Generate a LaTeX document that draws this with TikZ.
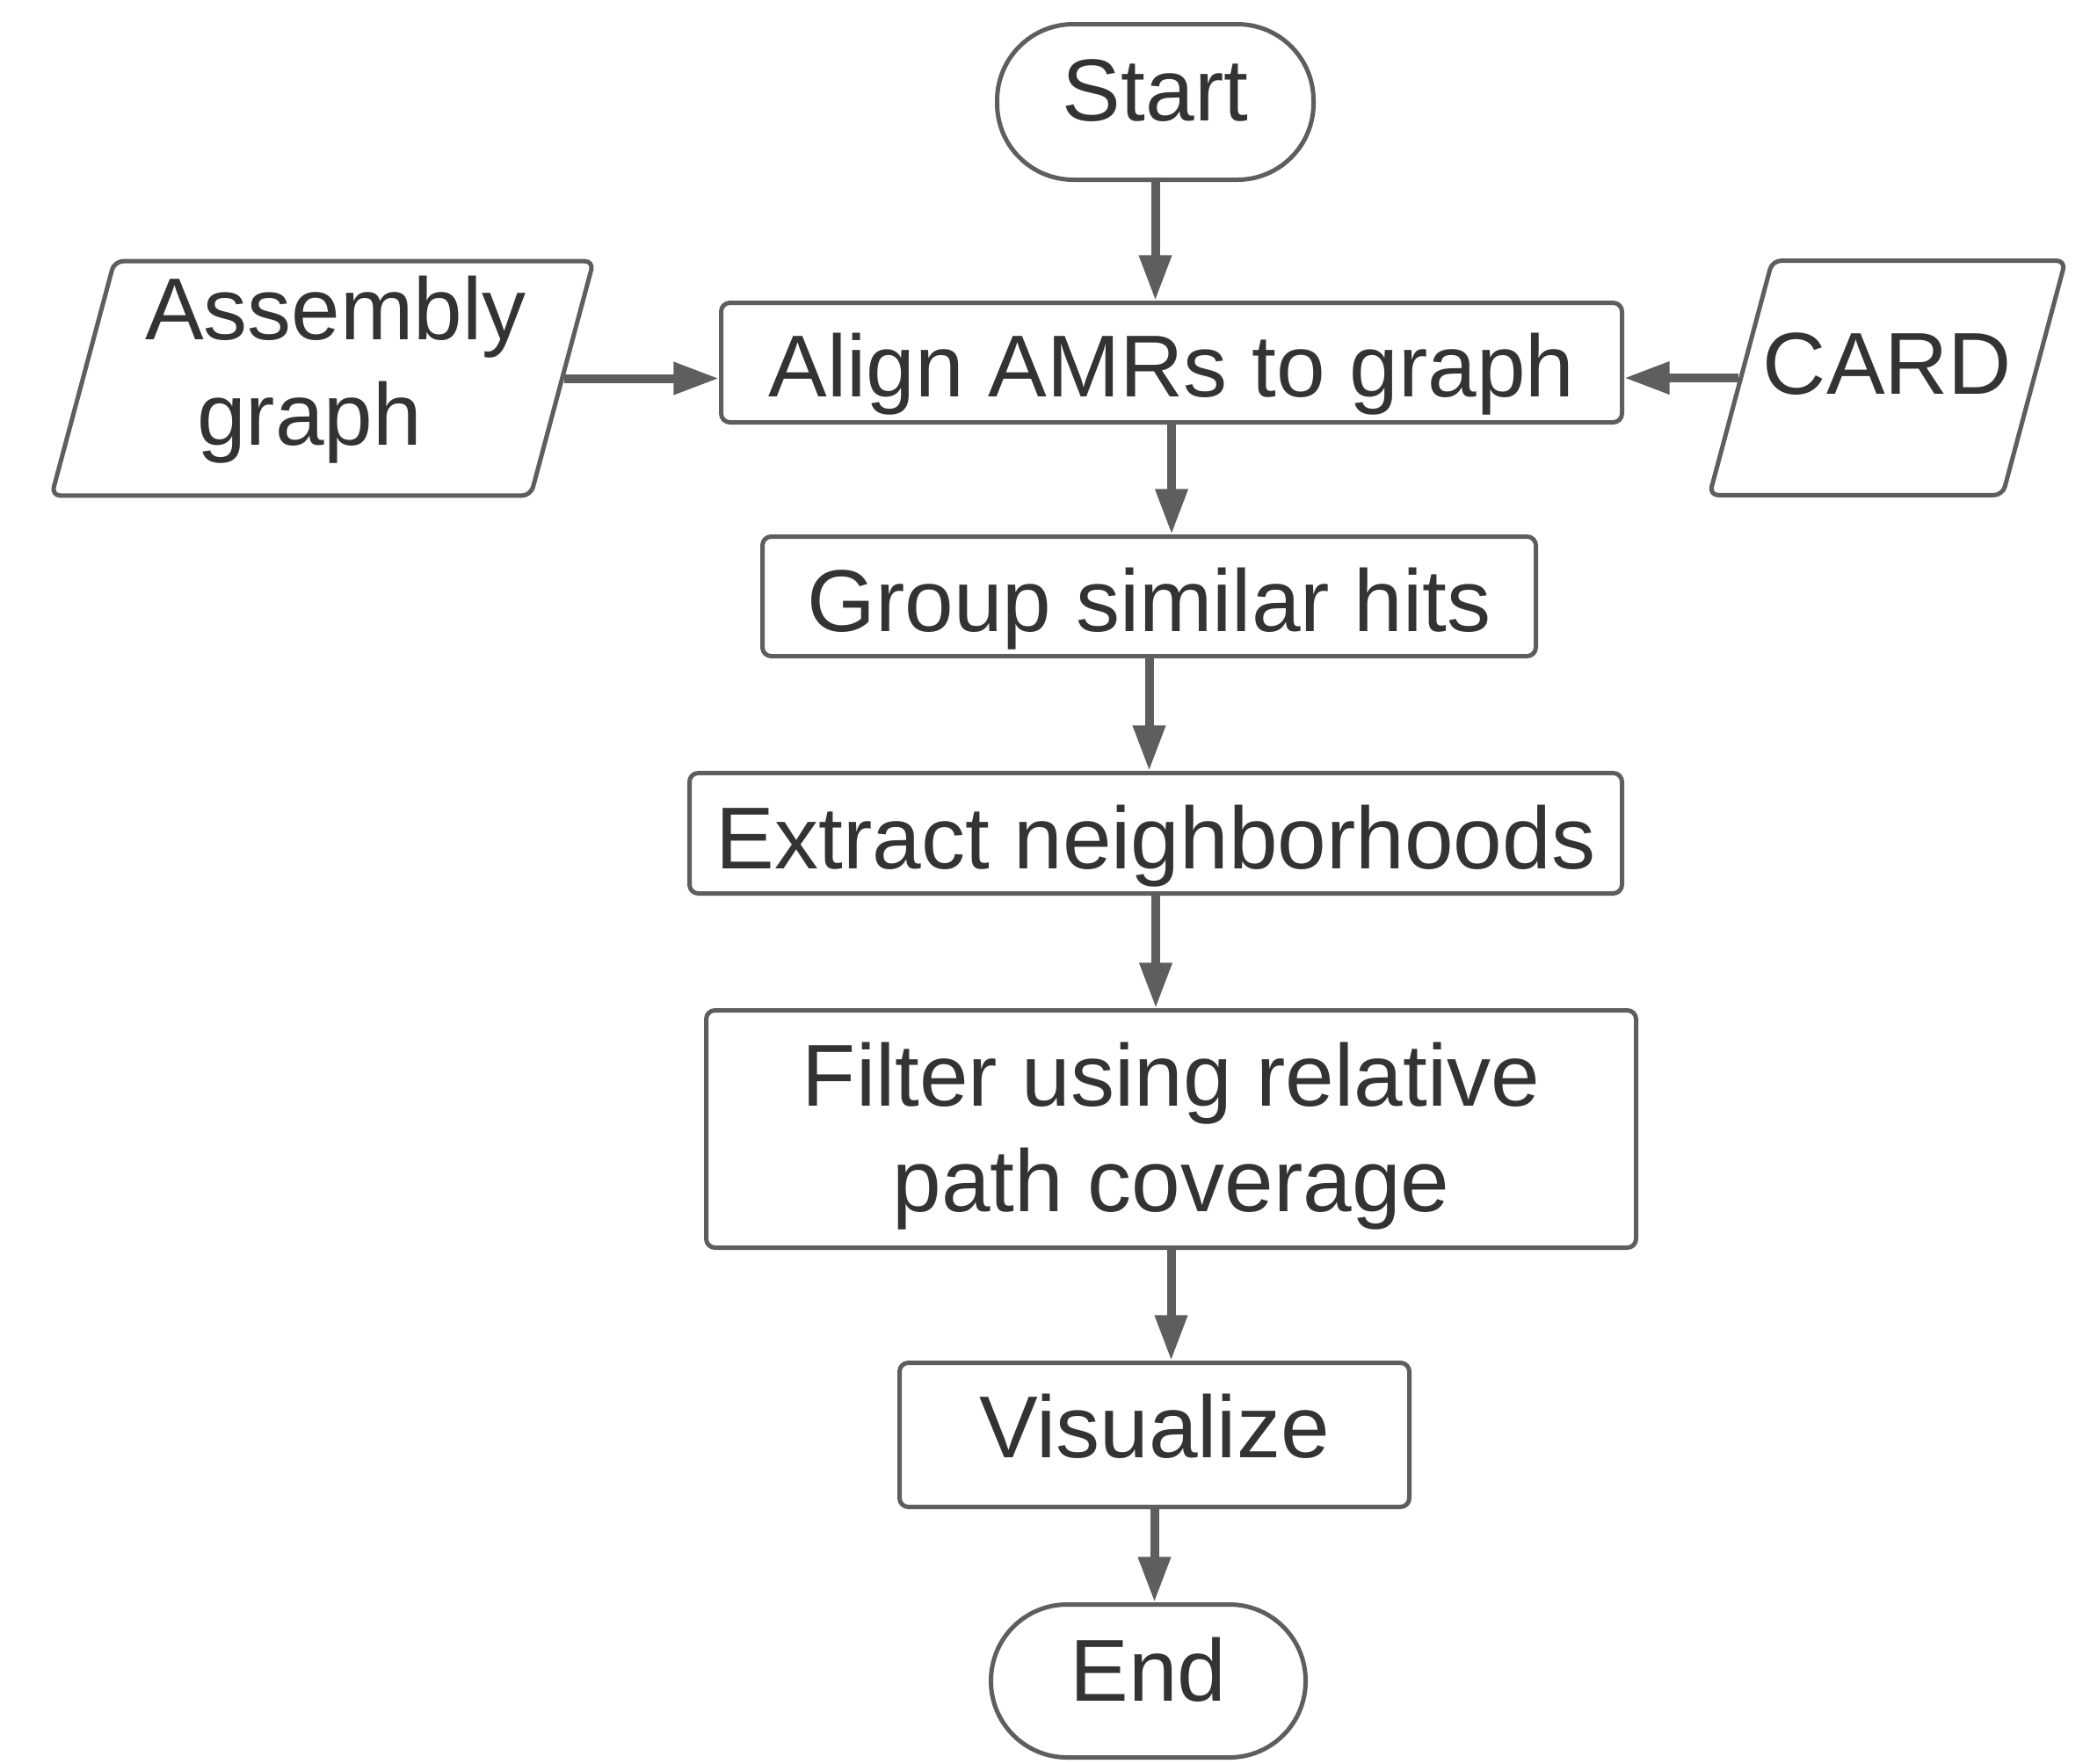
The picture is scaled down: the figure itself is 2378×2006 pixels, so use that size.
\documentclass[tikz,border=0pt]{standalone}
\usepackage{fontspec}
\setmainfont{Liberation Sans}
\usetikzlibrary{arrows.meta,shapes.geometric}
\definecolor{ink}{HTML}{333333}
\definecolor{stroke}{HTML}{5E5E5E}
\begin{document}
\begin{tikzpicture}[x=0.3pt,y=-0.3pt,
  every node/.style={font=\fontsize{30pt}{36pt}\selectfont, text=ink, inner sep=0pt},
  box/.style={draw=stroke, line width=1.5pt, rectangle, rounded corners=3pt},
  term/.style={draw=stroke, line width=1.5pt, rectangle, rounded corners=26pt},
  io/.style={draw=stroke, line width=1.5pt, trapezium, trapezium left angle=75,
    trapezium right angle=105, trapezium stretches body, rounded corners=3pt},
  flow/.style={draw=stroke, line width=3pt, -{Triangle[length=15.5pt,width=10.5pt]}},
]
% canvas
\path[fill=white] (0,0) rectangle (2378,2006);
\useasboundingbox (0,0) rectangle (2378,2006);

% terminals
\node[term, minimum width=108pt, text height=32.85pt, text depth=20.25pt] (start) at (1314.5,116) {Start};
\node[term, minimum width=107.4pt, text height=32.85pt, text depth=19.35pt] (end) at (1306.5,1912.5) {End};

% inputs
\node[io, minimum width=185pt, minimum height=80pt, text height=62.9pt, text depth=17.1pt] (asm) at (367,430.5)
  {\makebox[0pt]{\begin{tabular}[b]{@{}c@{}}\hspace*{9pt}Assembly\\graph\hspace*{9pt}\end{tabular}}};
\node[io, minimum width=121.5pt, minimum height=80pt, text height=45.4pt, text depth=34.6pt] (card) at (2147.5,430)
  {\makebox[0pt]{CARD}};

% process steps
\node[box, minimum width=307.5pt, text height=31.95pt, text depth=8.85pt] (align) at (1333,412.5) {Align AMRs to graph};
\node[box, minimum width=264pt, text height=32.25pt, text depth=8.55pt] (group) at (1307.5,678.5) {Group similar hits};
\node[box, minimum width=318.3pt, text height=32.55pt, text depth=8.55pt] (extract) at (1315,948) {Extract neighborhoods};
\node[box, minimum width=317.4pt, text height=68.55pt, text depth=12.45pt] (filter) at (1332.5,1284.5)
  {\begin{tabular}[b]{@{}c@{}}Filter using relative\\path coverage\end{tabular}};
\node[box, minimum width=174pt, text height=32.25pt, text depth=16.95pt] (viz) at (1313.5,1632.5) {Visualize};

% connectors
\draw[flow] (start.south) -- (start.south |- align.north);
\draw[flow] (asm.east) -- (asm.east -| align.west);
\draw[flow] (card.west) -- (card.west -| align.east);
\draw[flow] (align.south) -- (align.south |- group.north);
\draw[flow] (group.south) -- (group.south |- extract.north);
\draw[flow] (extract.south) -- (extract.south |- filter.north);
\draw[flow] (filter.south) -- (filter.south |- viz.north);
\draw[flow] (viz.south) -- (viz.south |- end.north);
\end{tikzpicture}
\end{document}
